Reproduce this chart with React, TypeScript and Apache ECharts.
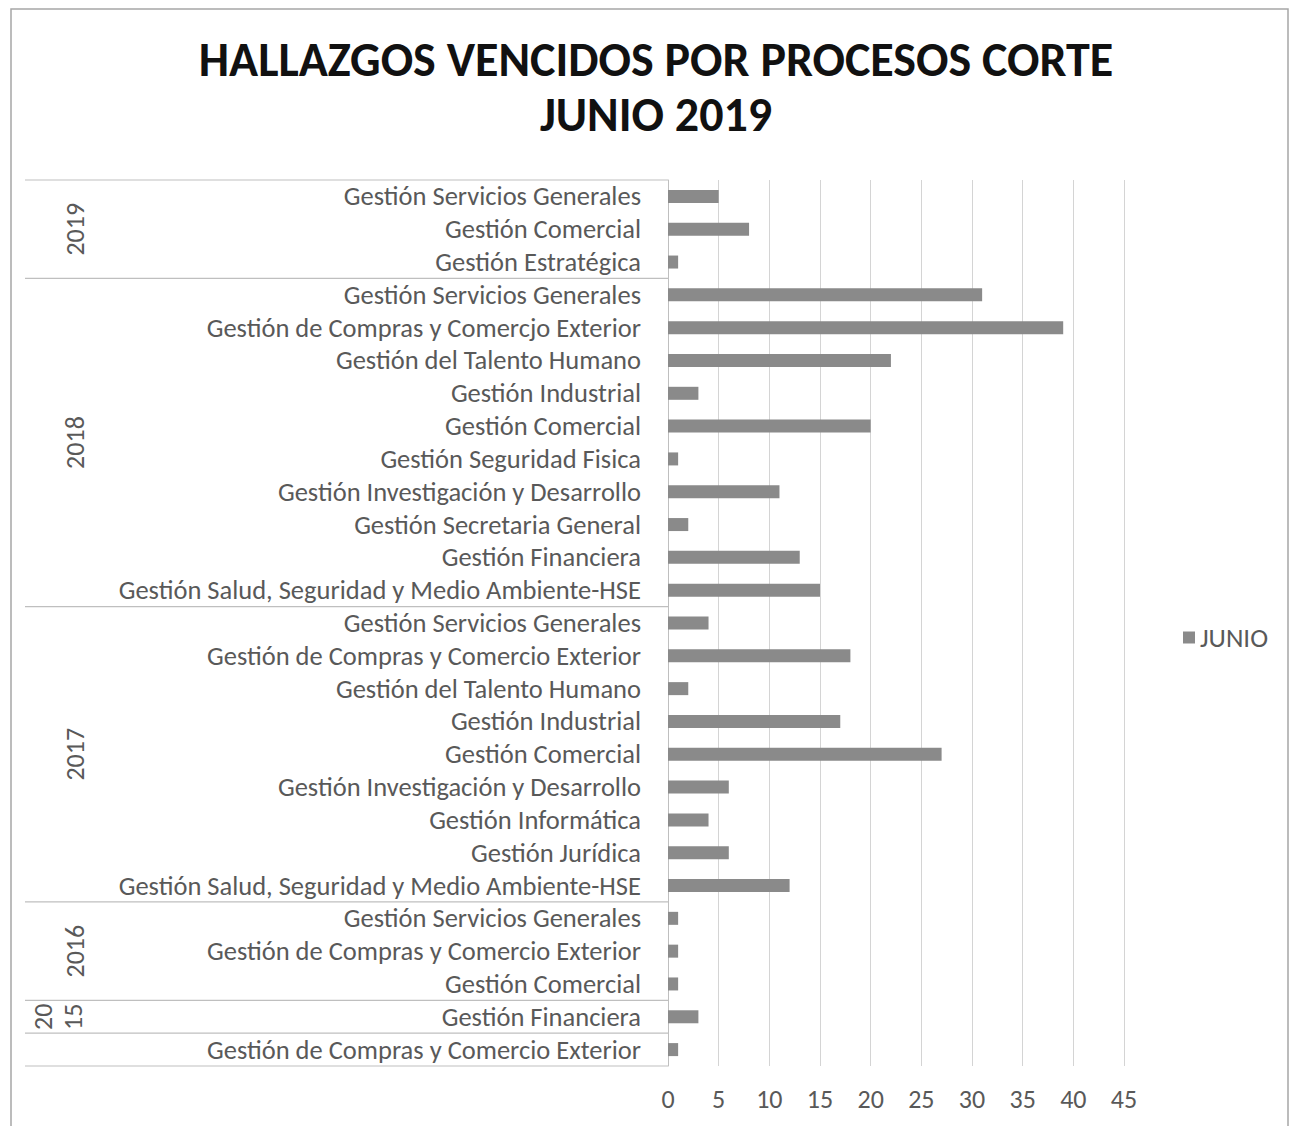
import React, { useEffect, useRef } from "react";
import * as echarts from "echarts";

const titleText = "HALLAZGOS VENCIDOS POR PROCESOS CORTE\nJUNIO 2019";
const seriesName = "JUNIO";

const processes = [
  "Gestión Servicios Generales",
  "Gestión Comercial",
  "Gestión Estratégica",
  "Gestión Servicios Generales",
  "Gestión de Compras y Comercjo Exterior",
  "Gestión del Talento Humano",
  "Gestión Industrial",
  "Gestión Comercial",
  "Gestión Seguridad Fisica",
  "Gestión Investigación y Desarrollo",
  "Gestión Secretaria General",
  "Gestión Financiera",
  "Gestión Salud, Seguridad y Medio Ambiente-HSE",
  "Gestión Servicios Generales",
  "Gestión de Compras y Comercio Exterior",
  "Gestión del Talento Humano",
  "Gestión Industrial",
  "Gestión Comercial",
  "Gestión Investigación y Desarrollo",
  "Gestión Informática",
  "Gestión Jurídica",
  "Gestión Salud, Seguridad y Medio Ambiente-HSE",
  "Gestión Servicios Generales",
  "Gestión de Compras y Comercio Exterior",
  "Gestión Comercial",
  "Gestión Financiera",
  "Gestión de Compras y Comercio Exterior",
];

const values = [5, 8, 1, 31, 39, 22, 3, 20, 1, 11, 2, 13, 15, 4, 18, 2, 17, 27, 6, 4, 6, 12, 1, 1, 1, 3, 1];

const years = ["2019", "2018", "2017", "2016", "20\n15", ""];
const groupSizes = [3, 10, 9, 3, 1, 1];

const xMin = 0;
const xMax = 45;
const xStep = 5;

const FONT = "Carlito, Lato, 'Liberation Sans', sans-serif";
const TEXT_GRAY = "#595959";

export default function App() {
  const ref = useRef<HTMLDivElement>(null);

  useEffect(() => {
    if (!ref.current) return;
    const chart = echarts.init(ref.current, undefined, { renderer: "svg" });
    const gridLeft = 668;
    chart.setOption({
      animation: false,
      backgroundColor: "#ffffff",
      textStyle: { fontFamily: FONT },
      title: {
        text: titleText,
        left: 651,
        textAlign: "center",
        top: 27,
        textStyle: {
          fontFamily: FONT,
          fontSize: 48,
          fontWeight: "bold",
          color: "#111111",
          lineHeight: 55,
        },
      },
      legend: {
        data: [seriesName],
        orient: "vertical",
        left: 1178,
        top: 619,
        icon: "rect",
        itemWidth: 12,
        itemHeight: 12,
        itemGap: 6,
        textStyle: { fontFamily: FONT, fontSize: 27, color: TEXT_GRAY },
      },
      grid: { left: gridLeft, right: 1289 - 1124, top: 180, bottom: 1126 - 1066, containLabel: false },
      xAxis: {
        type: "value",
        min: xMin,
        max: xMax,
        interval: xStep,
        axisLine: { show: false },
        axisTick: { show: false },
        splitLine: { show: true, lineStyle: { color: "#d4d4d4", width: 1 } },
        axisLabel: { fontFamily: FONT, fontSize: 26, color: TEXT_GRAY, margin: 20 },
      },
      yAxis: {
        type: "category",
        inverse: true,
        data: processes,
        axisLine: { show: true, lineStyle: { color: "#bfbfbf", width: 1 } },
        axisTick: { show: false },
        splitLine: { show: false },
        axisLabel: { fontFamily: FONT, fontSize: 26.5, color: TEXT_GRAY, margin: 27, interval: 0 },
      },
      series: [
        {
          name: seriesName,
          type: "bar",
          data: values,
          barWidth: 13,
          itemStyle: { color: "#8a8a8a" },
        },
      ],
    });

    const c0 = chart.convertToPixel({ yAxisIndex: 0 }, 0) as number;
    const c1 = chart.convertToPixel({ yAxisIndex: 0 }, 1) as number;
    const band = c1 - c0;
    const yAt = (b: number) => c0 + (b - 0.5) * band;
    const graphics: any[] = [
      {
        type: "rect",
        shape: { x: 11, y: 9, width: 1277, height: 1140 },
        style: { fill: "none", stroke: "#a6a6a6", lineWidth: 1.5 },
        silent: true,
      },
    ];
    let cum = 0;
    graphics.push({
      type: "line",
      shape: { x1: 25, y1: yAt(0), x2: gridLeft, y2: yAt(0) },
      style: { stroke: "#bfbfbf", lineWidth: 1.2 },
      silent: true,
    });
    groupSizes.forEach((size, gi) => {
      const start = cum;
      cum += size;
      graphics.push({
        type: "line",
        shape: { x1: 25, y1: yAt(cum), x2: gridLeft, y2: yAt(cum) },
        style: { stroke: "#bfbfbf", lineWidth: 1.2 },
        silent: true,
      });
      if (years[gi]) {
        const multi = years[gi].indexOf("\n") >= 0;
        graphics.push({
          type: "text",
          x: multi ? 58 : 75,
          y: (yAt(start) + yAt(cum)) / 2,
          rotation: Math.PI / 2,
          style: {
            text: years[gi],
            fontFamily: FONT,
            fontSize: 26,
            fill: TEXT_GRAY,
            align: "center",
            verticalAlign: "middle",
            lineHeight: 30,
          },
          silent: true,
        });
      }
    });
    chart.setOption({ graphic: graphics });

    return () => chart.dispose();
  }, []);

  return (
    <div
      ref={ref}
      style={{ position: "fixed", left: 0, top: 0, width: 1289, height: 1126 }}
    />
  );
}
